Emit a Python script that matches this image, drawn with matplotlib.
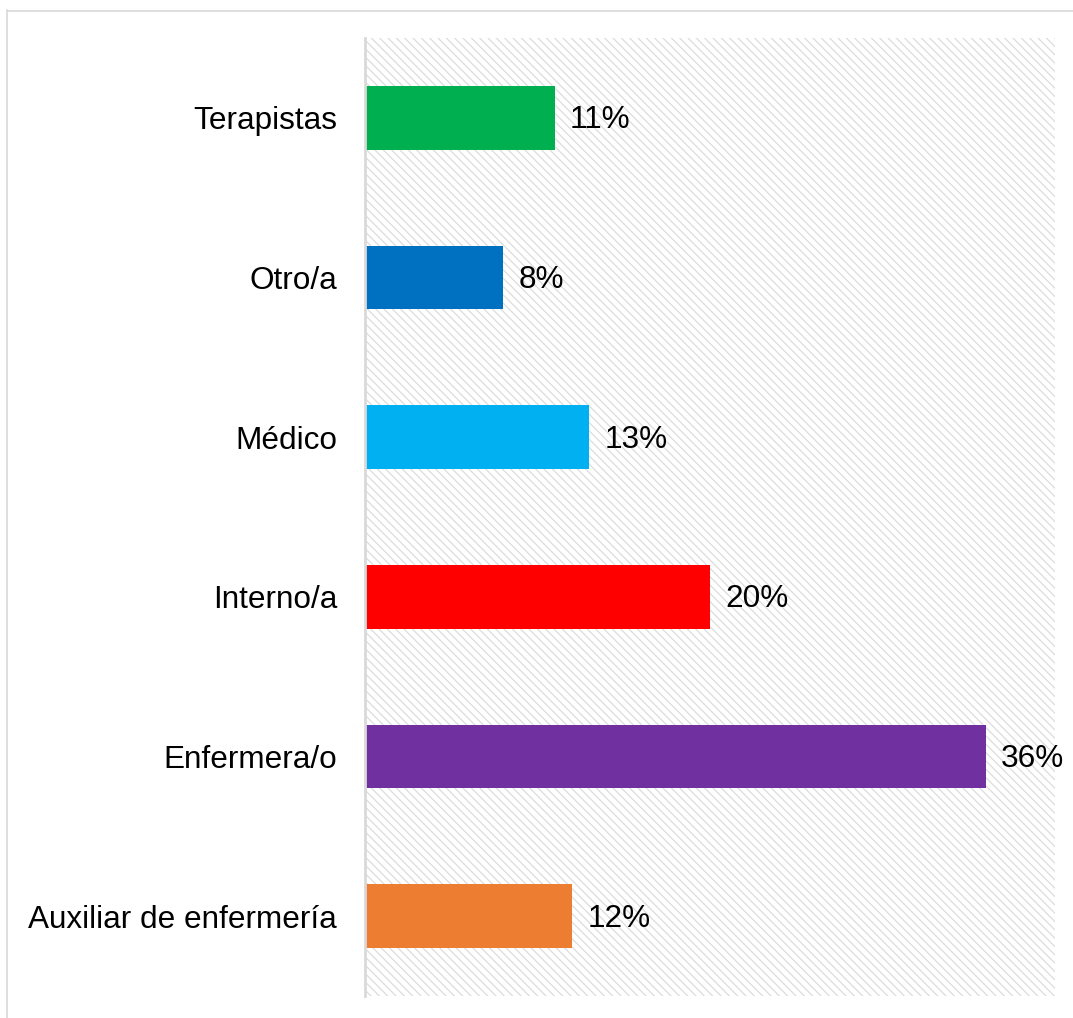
import matplotlib.pyplot as plt
from matplotlib.patches import Rectangle
from matplotlib.lines import Line2D

categorias = ['Auxiliar de enfermería', 'Enfermera/o', 'Interno/a', 'Médico', 'Otro/a', 'Terapistas']
valores = [0.12, 0.36, 0.20, 0.13, 0.08, 0.11]
etiquetas = ['12%', '36%', '20%', '13%', '8%', '11%']
colores = ['#ED7D31', '#7030A0', '#FF0000', '#00B0F0', '#0070C0', '#00B050']

plt.rcParams['font.family'] = ['Liberation Sans', 'DejaVu Sans']
plt.rcParams['hatch.linewidth'] = 0.9

fig = plt.figure(figsize=(10.73, 10.18), dpi=100)
ax = fig.add_axes([365 / 1073, 22 / 1018, 690 / 1073, 958 / 1018])

# fondo rayado
fondo = Rectangle((0, 0), 1, 1, transform=ax.transAxes, facecolor='white',
                  edgecolor='#dcdcdc', hatch='\\\\\\\\', linewidth=0, zorder=0)
ax.add_patch(fondo)

y = range(len(categorias))
ax.barh(y, valores, height=0.4, color=colores, zorder=2)

for i, v in enumerate(valores):
    ax.text(v + 0.0088, i - 0.015, etiquetas[i], va='center', ha='left', fontsize=22.7, color='black')

ax.set_xlim(0, 0.40)
ax.set_ylim(-0.5, 5.5)
ax.set_yticks(list(y))
ax.set_yticklabels(categorias, fontsize=22.7)
ax.tick_params(axis='y', length=0, pad=20)
ax.set_xticks([])

for s in ['top', 'right', 'bottom']:
    ax.spines[s].set_visible(False)
ax.spines['left'].set_color('#d9d9d9')
ax.spines['left'].set_linewidth(2)

# borde del gráfico
fig.add_artist(Line2D([6.5 / 1073, 6.5 / 1073], [0, 1 - 10 / 1018], transform=fig.transFigure,
                      color='#d9d9d9', linewidth=1.2))
fig.add_artist(Line2D([6.5 / 1073, 1], [1 - 10.5 / 1018, 1 - 10.5 / 1018], transform=fig.transFigure,
                      color='#d9d9d9', linewidth=1.2))

fig.savefig('out.png', dpi=100)
